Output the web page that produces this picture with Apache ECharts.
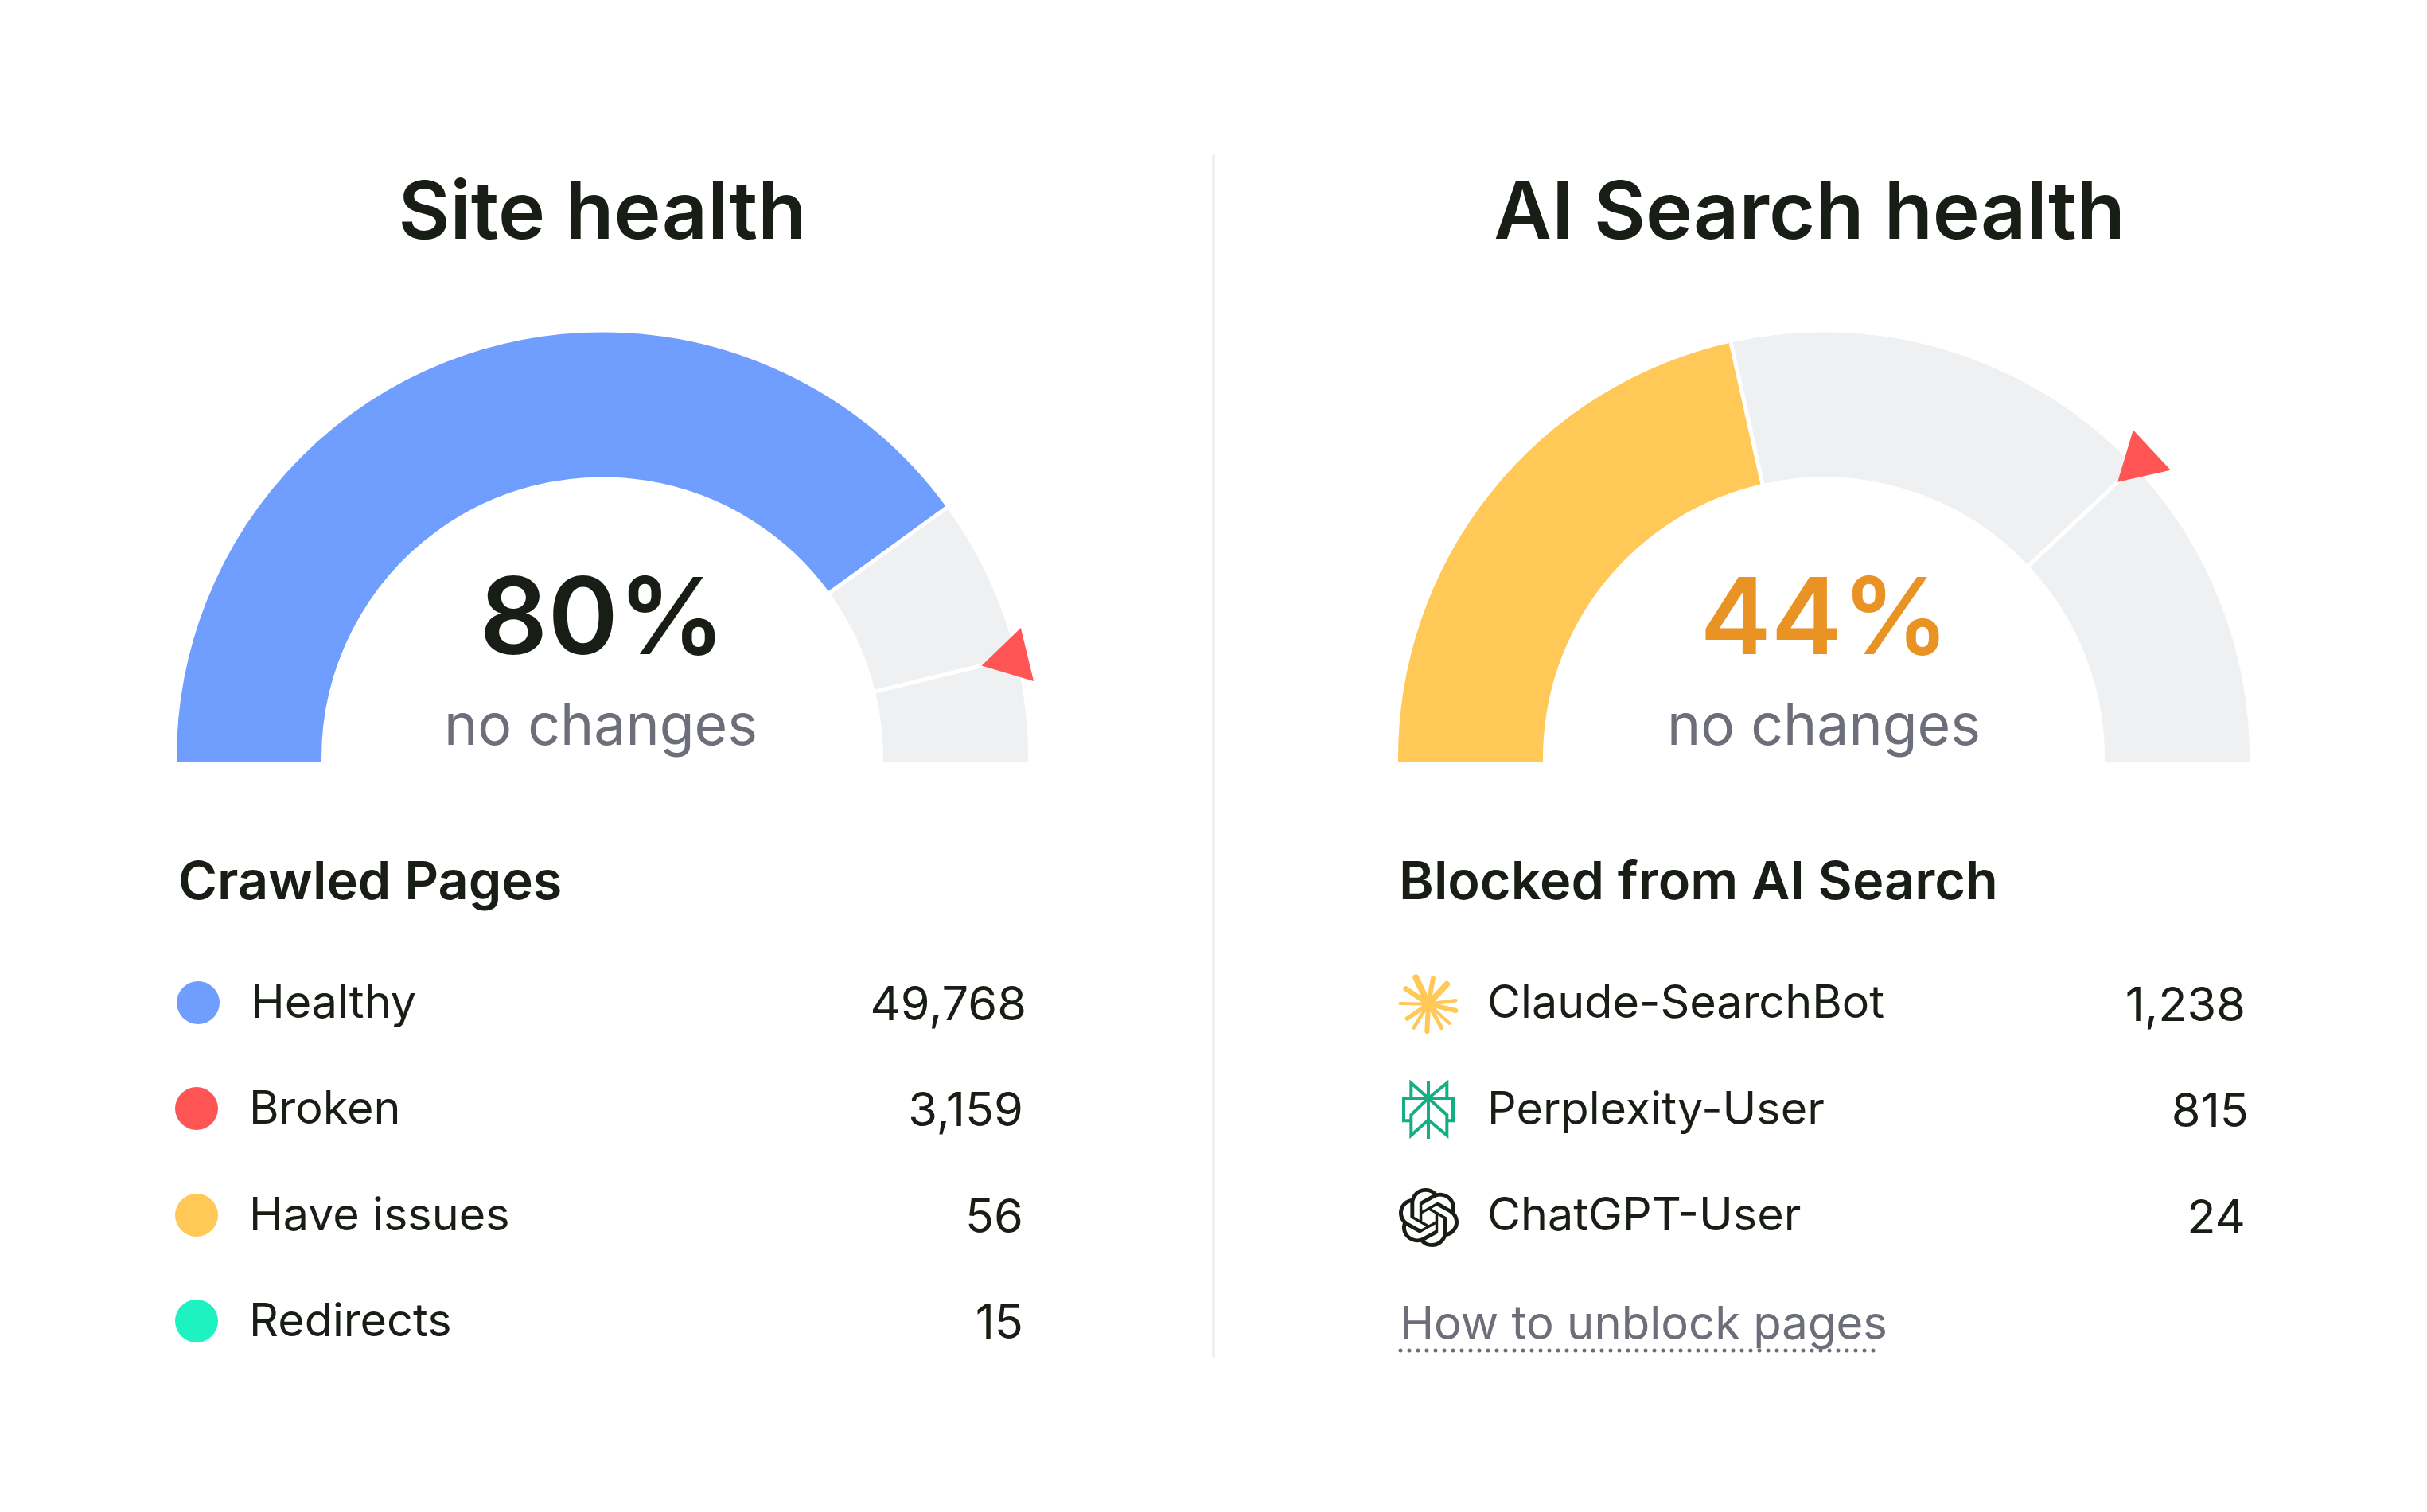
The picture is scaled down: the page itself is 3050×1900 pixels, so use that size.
<!DOCTYPE html>
<html><head><meta charset="utf-8">
<style>html,body{margin:0;padding:0;background:#fff}#c{width:3050px;height:1900px}</style>
<script src="https://cdn.jsdelivr.net/npm/echarts@6/dist/echarts.min.js"></script>
</head><body><div id="c"></div>
<script>
// ---- data ----
const titles = ['Site health', 'AI Search health'];
const scoreLabels = ['80%', '44%'];
const subLabels = ['no changes', 'no changes'];
const siteArc = [80, 12.4, 7.6];        // filled, rest up to marker, rest after marker (% of half circle)
const aiArc = [43, 33, 24];
const siteMarker = 92.4;
const aiMarker = 76;
const crawledHeading = 'Crawled Pages';
const crawledNames = ['Healthy', 'Broken', 'Have issues', 'Redirects'];
const crawledValues = ['49,768', '3,159', '56', '15'];
const crawledColors = ['#6F9EFF', '#FF5555', '#FFC857', '#1DF2C2'];
const blockedHeading = 'Blocked from AI Search';
const blockedNames = ['Claude-SearchBot', 'Perplexity-User', 'ChatGPT-User'];
const blockedValues = ['1,238', '815', '24'];
const linkLabel = 'How to unblock pages';

// ---- style ----
const FONT = 'Inter, sans-serif';
const DARK = '#181E15', GREY = '#6C6E79', TRACK = '#EFF0F2', RED = '#FF5555', ORANGE = '#E89324';
const YELLOW = '#FFC857', BLUE = '#6F9EFF', TEAL = '#14AE85';
const CY = 952.5, R = 535, r = 353, GAP = 2.5, POLAR_R = 600;
const CX = [757, 2292];
const BASE = 957;

function text(x, y, t, size, weight, fill, align) {
  return { type: 'text', x, y, silent: true, z: 20,
    style: { text: t, fontFamily: FONT, fontSize: size, fontWeight: weight, fill, align: align || 'left', verticalAlign: 'middle' } };
}
function pie(cx, vals, fill) {
  return { type: 'pie', center: [cx, CY], radius: [r - GAP, R + GAP], startAngle: 180, endAngle: 0, silent: true,
    label: { show: false }, labelLine: { show: false }, clockwise: true, z: 2,
    itemStyle: { borderColor: '#fff', borderWidth: GAP * 2 },
    data: vals.map((v, i) => ({ value: v, itemStyle: { color: i === 0 ? fill : TRACK } })) };
}
function foot(cx, fillL) {
  const top = CY - GAP - 1;
  return [
    { type: 'rect', silent: true, z: 3, shape: { x: cx - R, y: top, width: R - r, height: BASE - top }, style: { fill: fillL } },
    { type: 'rect', silent: true, z: 3, shape: { x: cx + r, y: top, width: R - r, height: BASE - top }, style: { fill: TRACK } }
  ];
}
function polar(cx) { return { center: [cx, CY], radius: POLAR_R }; }

// icons
const CL = [[118,55,8],[183,58,6],[235,80,7.5],[268,142,4.5],[268,180,6],[245,228,4],[215,245,5],[160,258,6],[110,245,4.5],[85,210,5.5],[58,153,4],[80,97,6.5]];
function claude(ox, oy) {
  const c = [ox + 165/3, oy + 155/3];
  const out = CL.map(p => ({ type: 'polyline', silent: true, z: 20,
    shape: { points: [c, [ox + p[0]/3, oy + p[1]/3]] },
    style: { stroke: YELLOW, lineWidth: p[2], lineCap: 'round', fill: null } }));
  out.push({ type: 'circle', silent: true, z: 20, shape: { cx: c[0], cy: c[1], r: 8 }, style: { fill: YELLOW } });
  return out;
}
const PX = [
  [[165,40],[165,258]],
  [[100,105],[100,48],[165,105],[235,48],[235,105]],
  [[100,190],[72,190],[72,105],[258,105],[258,190],[235,190]],
  [[165,105],[100,168],[100,245],[165,187],[235,245],[235,168],[165,105]]
];
function perplexity(ox, oy) {
  return PX.map(l => ({ type: 'polyline', silent: true, z: 20,
    shape: { points: l.map(p => [ox + p[0]/3, oy + p[1]/3]) },
    style: { stroke: TEAL, lineWidth: 4, fill: null, lineJoin: 'miter' } }));
}
const OPENAI = 'M22.2819 9.8211a5.9847 5.9847 0 0 0-.5157-4.9108 6.0462 6.0462 0 0 0-6.5098-2.9A6.0651 6.0651 0 0 0 4.9807 4.1818a5.9847 5.9847 0 0 0-3.9977 2.9 6.0462 6.0462 0 0 0 .7427 7.0966 5.98 5.98 0 0 0 .511 4.9107 6.051 6.051 0 0 0 6.5146 2.9001A5.9847 5.9847 0 0 0 13.2599 24a6.0557 6.0557 0 0 0 5.7718-4.2058 5.9894 5.9894 0 0 0 3.9977-2.9001 6.0557 6.0557 0 0 0-.7475-7.0729zm-9.022 12.6081a4.4755 4.4755 0 0 1-2.8764-1.0408l.1419-.0804 4.7783-2.7582a.7948.7948 0 0 0 .3927-.6813v-6.7369l2.02 1.1686a.071.071 0 0 1 .038.052v5.5826a4.504 4.504 0 0 1-4.4945 4.4944zm-9.6607-4.1254a4.4708 4.4708 0 0 1-.5346-3.0137l.142.0852 4.783 2.7582a.7712.7712 0 0 0 .7806 0l5.8428-3.3685v2.3324a.0804.0804 0 0 1-.0332.0615L9.74 19.9502a4.4992 4.4992 0 0 1-6.1408-1.6464zM2.3408 7.8956a4.485 4.485 0 0 1 2.3655-1.9728V11.6a.7664.7664 0 0 0 .3879.6765l5.8144 3.3543-2.0201 1.1685a.0757.0757 0 0 1-.071 0l-4.8303-2.7865A4.504 4.504 0 0 1 2.3408 7.872zm16.5963 3.8558L13.1038 8.364 15.1192 7.2a.0757.0757 0 0 1 .071 0l4.8303 2.7913a4.4944 4.4944 0 0 1-.6765 8.1042v-5.6772a.79.79 0 0 0-.407-.667zm2.0107-3.0231l-.142-.0852-4.7735-2.7818a.7759.7759 0 0 0-.7854 0L9.409 9.2297V6.8974a.0662.0662 0 0 1 .0284-.0615l4.8303-2.7866a4.4992 4.4992 0 0 1 6.6802 4.66zM8.3065 12.863l-2.02-1.1638a.0804.0804 0 0 1-.038-.0567V6.0742a4.4992 4.4992 0 0 1 7.3757-3.4537l-.142.0805L8.704 5.459a.7948.7948 0 0 0-.3927.6813zm1.0976-2.3654l2.602-1.4998 2.6069 1.4998v2.9994l-2.5974 1.4997-2.6067-1.4997Z';

// ---- layout of text ----
const rowY = [1262, 1395, 1529, 1662];
const g = [];
g.push({ type: 'rect', silent: true, shape: { x: 1523, y: 193, width: 4, height: 1514 }, style: { fill: '#F0F1F3' } });
g.push(...foot(CX[0], BLUE), ...foot(CX[1], YELLOW));
g.push(text(757, 270, titles[0], 100, 600, DARK, 'center'));
g.push(text(2274, 270, titles[1], 100, 600, DARK, 'center'));
g.push(text(757, 782, scoreLabels[0], 134, 600, DARK, 'center'));
g.push(text(2293, 782, scoreLabels[1], 134, 600, ORANGE, 'center'));
g.push(text(755, 914, subLabels[0], 71.5, 400, GREY, 'center'));
g.push(text(2292, 914, subLabels[1], 71.5, 400, GREY, 'center'));
g.push(text(224, 1110, crawledHeading, 66.6, 600, DARK));
g.push(text(1758, 1110, blockedHeading, 66.6, 600, DARK));
const dotX = [249, 247, 247, 247], nameX = [315, 313, 313, 313], valX = [1290, 1286, 1286, 1286];
crawledNames.forEach((n, i) => {
  g.push({ type: 'circle', silent: true, z: 20, shape: { cx: dotX[i], cy: rowY[i] - 2, r: 27 }, style: { fill: crawledColors[i] } });
  g.push(text(nameX[i], rowY[i], n, 57.5, 400, DARK));
  g.push(text(valX[i], rowY[i] + 2, crawledValues[i], 59.5, 400, DARK, 'right'));
});
const bValX = [2822, 2826, 2822];
blockedNames.forEach((n, i) => {
  g.push(text(1869, rowY[i] + (i === 1 ? 1 : 0), n, 57.5, 400, DARK));
  g.push(text(bValX[i], rowY[i] + 3, blockedValues[i], 59.5, 400, DARK, 'right'));
});
g.push(...claude(1740, 1210), ...perplexity(1740, 1345));
g.push(text(1759, 1666, linkLabel, 58, 400, GREY));
g.push({ type: 'line', silent: true, z: 20, shape: { x1: 1760, y1: 1697, x2: 2359, y2: 1697 },
  style: { stroke: GREY, lineWidth: 5, lineCap: 'round', lineDash: [0, 11] } });

const chart = echarts.init(document.getElementById('c'), null, { renderer: 'canvas' });
const hideAxis = { show: false };
chart.setOption({
  animation: false,
  backgroundColor: '#fff',
  polar: [polar(CX[0]), polar(CX[1])],
  angleAxis: [0, 1].map(i => ({ polarIndex: i, type: 'value', min: 0, max: 200, startAngle: 180, clockwise: true, ...hideAxis })),
  radiusAxis: [0, 1].map(i => ({ polarIndex: i, type: 'value', min: 0, max: POLAR_R, ...hideAxis })),
  series: [
    pie(CX[0], siteArc, BLUE),
    pie(CX[1], aiArc, YELLOW),
    { type: 'scatter', coordinateSystem: 'polar', polarIndex: 0, silent: true, z: 10, symbol: 'triangle', symbolSize: [69, 59], symbolRotate: 103.6,
      itemStyle: { color: RED, opacity: 1 }, data: [[520, siteMarker]] },
    { type: 'scatter', coordinateSystem: 'polar', polarIndex: 1, silent: true, z: 10, symbol: 'triangle', symbolSize: [69, 59], symbolRotate: 133,
      itemStyle: { color: RED, opacity: 1 }, data: [[536, aiMarker]] },
    { type: 'custom', coordinateSystem: 'none', silent: true, z: 20, data: [0],
      renderItem: () => ({ type: 'path', shape: { pathData: OPENAI, x: 1758, y: 1493, width: 75, height: 74, layout: 'cover' }, style: { fill: DARK } }) }
  ],
  graphic: g
});
</script></body></html>
